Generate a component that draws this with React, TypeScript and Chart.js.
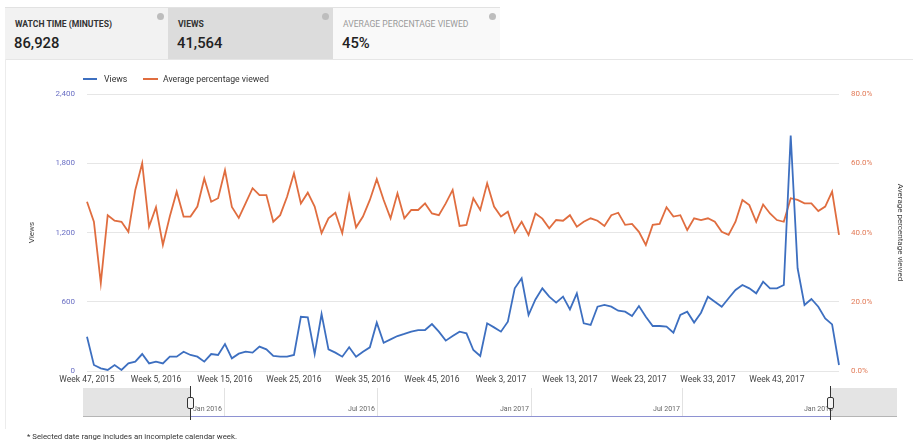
import React, { useEffect, useRef } from "react";
import { Chart, registerables } from "chart.js";

Chart.register(...registerables);

// ---- data ----
const tickLabels = [
  "Week 47, 2015", "Week 5, 2016", "Week 15, 2016", "Week 25, 2016", "Week 35, 2016",
  "Week 45, 2016", "Week 3, 2017", "Week 13, 2017", "Week 23, 2017", "Week 33, 2017", "Week 43, 2017",
];

const views = [
  297, 52, 23, 9, 52, 9, 66, 81, 147, 66,
  81, 66, 124, 124, 167, 139, 124, 81, 147, 139,
  234, 110, 150, 167, 159, 211, 188, 130, 124, 124,
  139, 470, 465, 147, 494, 188, 159, 124, 205, 124,
  167, 205, 419, 245, 274, 303, 321, 341, 355, 355,
  407, 341, 263, 303, 341, 326, 182, 130, 413, 378,
  341, 427, 716, 803, 485, 620, 716, 644, 592, 644,
  534, 673, 413, 399, 557, 572, 557, 522, 514, 477,
  563, 470, 390, 390, 384, 332, 485, 514, 420, 505,
  644, 600, 557, 630, 702, 745, 716, 673, 774, 716,
  716, 745, 2040, 890, 572, 624, 557, 456, 404, 52,
];

const avgPctViewed = [
  48.9, 43.1, 25.4, 45.0, 43.4, 43.1, 40.2, 52.3, 60.0, 41.7,
  47.3, 36.4, 44.6, 51.8, 44.6, 44.6, 47.5, 55.6, 48.9, 49.9,
  58.0, 47.4, 44.2, 48.5, 52.8, 50.8, 50.8, 43.1, 45.0, 50.3,
  57.1, 48.4, 51.5, 47.5, 39.8, 44.1, 45.7, 39.8, 50.8, 41.5,
  44.6, 49.4, 55.4, 49.4, 44.1, 51.3, 44.1, 46.5, 46.5, 48.4,
  45.5, 45.0, 48.4, 52.3, 41.9, 42.2, 49.9, 46.5, 54.2, 47.5,
  44.6, 46.0, 40.0, 43.1, 39.3, 45.5, 44.0, 41.2, 43.6, 43.4,
  45.0, 41.7, 43.1, 44.1, 43.4, 41.9, 45.0, 45.7, 42.2, 42.5,
  40.2, 36.4, 42.2, 42.5, 47.3, 44.6, 45.0, 40.7, 44.1, 43.6,
  44.1, 43.1, 40.2, 39.3, 43.1, 49.4, 47.9, 43.1, 48.1, 45.5,
  43.6, 43.1, 49.9, 49.4, 48.4, 48.4, 46.2, 47.5, 51.8, 39.3,
];

const viewsTicks = [0, 600, 1200, 1800, 2400];
const pctTicks = [0, 20, 40, 60, 80];

const metricTabs = [
  { label: "WATCH TIME (MINUTES)", value: "86,928" },
  { label: "VIEWS", value: "41,564" },
  { label: "AVERAGE PERCENTAGE VIEWED", value: "45%" },
];

const navigatorLabels = ["Jan 2016", "Jul 2016", "Jan 2017", "Jul 2017", "Jan 2018"];

// week categories, one per data point (52-week years as in the source)
function buildWeeks(n: number): string[] {
  const out: string[] = [];
  let week = 47;
  let year = 2015;
  for (let i = 0; i < n; i++) {
    out.push(`Week ${week}, ${year}`);
    week++;
    if (week > 52) {
      week = 1;
      year++;
    }
  }
  return out;
}
const weeks = buildWeeks(views.length);

const BLUE = "#3d6fc0";
const ORANGE = "#e06d3f";
const FONT = "Roboto, 'Liberation Sans', Arial, sans-serif";

export default function App() {
  const canvasRef = useRef<HTMLCanvasElement | null>(null);

  useEffect(() => {
    document.body.style.margin = "0";
    const canvas = canvasRef.current;
    if (!canvas) return;
    Chart.defaults.font.family = FONT;
    const chart = new Chart(canvas, {
      type: "line",
      data: {
        labels: weeks,
        datasets: [
          {
            label: "Views",
            data: views,
            yAxisID: "y",
            borderColor: BLUE,
            backgroundColor: BLUE,
            borderWidth: 1.8,
            pointRadius: 0,
            tension: 0,
          },
          {
            label: "Average percentage viewed",
            data: avgPctViewed,
            yAxisID: "y1",
            borderColor: ORANGE,
            backgroundColor: ORANGE,
            borderWidth: 1.8,
            pointRadius: 0,
            tension: 0,
          },
        ],
      },
      options: {
        animation: false,
        responsive: false,
        events: [],
        layout: { padding: { top: 34, left: 0, right: 0, bottom: 0 } },
        plugins: { legend: { display: false }, tooltip: { enabled: false } },
        scales: {
          x: {
            type: "category",
            offset: false,
            grid: { display: false, drawTicks: false },
            border: { display: false },
            ticks: {
              autoSkip: false,
              maxRotation: 0,
              minRotation: 0,
              padding: 4,
              color: "#444",
              font: { size: 8.5 },
              callback: (_v: any, i: number) => (i % 10 === 0 ? tickLabels[i / 10] ?? null : null),
            },
            afterFit: (s: any) => {
              s.height = 20;
            },
          },
          y: {
            position: "left",
            min: 0,
            max: 2400,
            afterBuildTicks: (s: any) => {
              s.ticks = viewsTicks.map((v) => ({ value: v }));
            },
            grid: { color: "#e6e6e6", drawTicks: false },
            border: { display: false },
            ticks: {
              padding: 12,
              color: "#6a6fc4",
              font: { size: 8 },
              callback: (v: any) => Number(v).toLocaleString("en-US"),
            },
            title: {
              display: true,
              text: "Views",
              color: "#444",
              font: { size: 8 },
              padding: { top: 27, bottom: 0 },
            },
            afterFit: (s: any) => {
              s.width = 87;
            },
          },
          y1: {
            position: "right",
            min: 0,
            max: 80,
            afterBuildTicks: (s: any) => {
              s.ticks = pctTicks.map((v) => ({ value: v }));
            },
            grid: { display: false, drawTicks: false },
            border: { display: false },
            ticks: {
              padding: 12,
              color: "#e27b58",
              font: { size: 8 },
              callback: (v: any) => Number(v).toFixed(1) + "%",
            },
            title: {
              display: true,
              text: "Average percentage viewed",
              color: "#444",
              font: { size: 8 },
              padding: { top: 8, bottom: 0 },
            },
            afterFit: (s: any) => {
              s.width = 74;
            },
          },
        },
      },
    });
    return () => chart.destroy();
  }, []);

  const tabBgs = ["#f2f2f2", "#dcdcdc", "#f9f9f9"];
  const tabLefts = [5, 168, 333];
  const tabWidths = [163, 165, 167];
  const navTicks = [224, 377, 531, 682, 835];

  return (
    <div
      style={{
        position: "relative",
        width: 913,
        height: 446,
        background: "#fff",
        fontFamily: FONT,
        overflow: "hidden",
      }}
    >
      {/* metric tabs */}
      {metricTabs.map((t, i) => (
        <div
          key={t.label}
          style={{
            position: "absolute",
            left: tabLefts[i],
            top: 7,
            width: tabWidths[i],
            height: 52,
            background: tabBgs[i],
            borderTop: "1px solid #e2e2e2",
            boxSizing: "border-box",
          }}
        >
          <div
            style={{
              position: "absolute",
              left: 10,
              top: 11,
              fontSize: 8.6,
              lineHeight: "11px",
              fontWeight: i === 2 ? 400 : 700,
              color: i === 2 ? "#9a9a9a" : "#333",
              whiteSpace: "nowrap",
            }}
          >
            {t.label}
          </div>
          <div
            style={{
              position: "absolute",
              left: 9,
              top: 26,
              fontSize: 14.8,
              fontWeight: 500,
              color: "#222",
              whiteSpace: "nowrap",
            }}
          >
            {t.value}
          </div>
          <div
            style={{
              position: "absolute",
              right: 4,
              top: 5,
              width: 7,
              height: 7,
              borderRadius: "50%",
              background: "#bdbdbd",
            }}
          />
        </div>
      ))}

      {/* panel borders */}
      <div style={{ position: "absolute", left: 5, top: 59, width: 908, height: 1, background: "#e6e6e6" }} />
      <div style={{ position: "absolute", left: 5, top: 59, width: 1, height: 370, background: "#ececec" }} />

      {/* chart */}
      <canvas
        ref={canvasRef}
        width={913}
        height={331}
        style={{ position: "absolute", left: 0, top: 60, width: 913, height: 331, display: "block" }}
      />

      {/* legend */}
      <div style={{ position: "absolute", left: 83, top: 78, width: 14, height: 2, background: BLUE }} />
      <div
        style={{ position: "absolute", left: 104, top: 73, fontSize: 8.7, lineHeight: "12px", color: "#333" }}
      >
        Views
      </div>
      <div style={{ position: "absolute", left: 143, top: 78, width: 15, height: 2, background: ORANGE }} />
      <div
        style={{ position: "absolute", left: 163, top: 73, fontSize: 8.7, lineHeight: "12px", color: "#333" }}
      >
        Average percentage viewed
      </div>

      {/* range navigator */}
      <div style={{ position: "absolute", left: 83, top: 388, width: 107, height: 29, background: "#e4e4e4" }} />
      <div style={{ position: "absolute", left: 830, top: 388, width: 67, height: 29, background: "#e4e4e4" }} />
      {navTicks.slice(0, 4).map((x) => (
        <div key={x} style={{ position: "absolute", left: x, top: 388, width: 1, height: 29, background: "#e2e2e2" }} />
      ))}
      {navigatorLabels.map((l, i) => (
        <div
          key={l}
          style={{
            position: "absolute",
            left: navTicks[i] - 62,
            width: 60,
            top: 405,
            textAlign: "right",
            fontSize: 7,
            lineHeight: "9px",
            color: "#666",
            whiteSpace: "nowrap",
          }}
        >
          {l}
        </div>
      ))}
      <div style={{ position: "absolute", left: 83, top: 416, width: 107, height: 1, background: "#b5b5b5" }} />
      <div style={{ position: "absolute", left: 190, top: 416, width: 640, height: 1, background: "#8e92d2" }} />
      <div style={{ position: "absolute", left: 830, top: 416, width: 67, height: 1, background: "#b5b5b5" }} />
      {[190, 830].map((x) => (
        <React.Fragment key={x}>
          <div style={{ position: "absolute", left: x, top: 386, width: 1, height: 34, background: "#333" }} />
          <div
            style={{
              position: "absolute",
              left: x - 3,
              top: 397,
              width: 5,
              height: 10,
              border: "1px solid #333",
              borderRadius: 2,
              background: "#f4f4f4",
            }}
          />
        </React.Fragment>
      ))}

      {/* footnote */}
      <div
        style={{
          position: "absolute",
          left: 27,
          top: 432,
          fontSize: 7.8,
          lineHeight: "10px",
          color: "#333",
          whiteSpace: "nowrap",
        }}
      >
        * Selected date range includes an incomplete calendar week.
      </div>
    </div>
  );
}
